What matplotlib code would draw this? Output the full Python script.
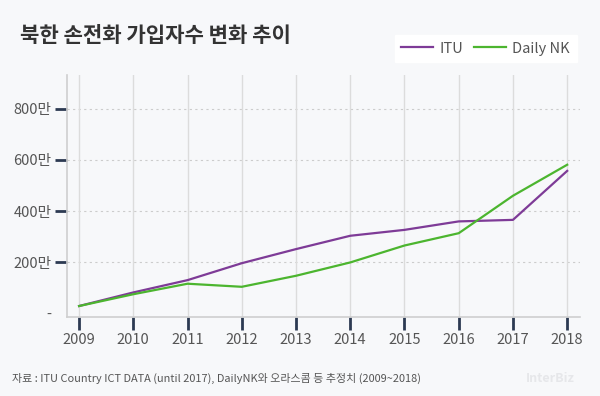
import matplotlib
matplotlib.use('Agg')
import matplotlib.pyplot as plt
from matplotlib.ticker import FixedLocator, FixedFormatter

plt.rcParams['font.family'] = ['Noto Sans CJK KR', 'DejaVu Sans']

# data (unit: 만 명)
years = [2009, 2010, 2011, 2012, 2013, 2014, 2015, 2016, 2017, 2018]
itu = [30, 83, 131, 197, 252, 304, 327, 360, 366, 557]
dailynk = [30, 76, 117, 105, 148, 200, 266, 314, 460, 581]
ytick_vals = [0, 200, 400, 600, 800]
ytick_labels = ['-', '200만', '400만', '600만', '800만']

bg = '#f7f8fa'
purple = '#7e3b97'
green = '#4cb52f'
navy = '#2c3a52'
txt = '#555555'

fig = plt.figure(figsize=(6, 3.96), dpi=100, facecolor=bg)
ax = fig.add_axes([0.111, 0.200, 0.856, 0.610], facecolor=bg)

ax.plot(years, itu, color=purple, lw=1.6, label='ITU', zorder=3)
ax.plot(years, dailynk, color=green, lw=1.6, label='Daily NK', zorder=3)

ax.set_xlim(2008.77, 2018.24)
ax.set_ylim(-12, 930)

ax.set_xticks(years)
ax.set_xticklabels([str(y) for y in years])
ax.yaxis.set_major_locator(FixedLocator(ytick_vals))
ax.yaxis.set_major_formatter(FixedFormatter(ytick_labels))

ax.tick_params(axis='both', colors=navy, width=2, length=9, labelsize=10.5,
               labelcolor=txt)
ax.tick_params(axis='y', pad=2)
ax.tick_params(axis='x', pad=3)
ax.yaxis.get_major_ticks()[0].tick1line.set_visible(False)

for s in ['top', 'right']:
    ax.spines[s].set_visible(False)
for s in ['left', 'bottom']:
    ax.spines[s].set_color('#cfcfcf')
    ax.spines[s].set_linewidth(1.2)

ax.grid(axis='x', color='#dcdcdc', lw=1, zorder=0)
for v in ytick_vals[1:]:
    ax.axhline(v, color='#cccccc', lw=0.8, ls=(0, (2, 3)), zorder=0)

fig.text(0.033, 0.91, '북한 손전화 가입자수 변화 추이', fontsize=15.2,
         fontweight='bold', color='#333333', va='center')

leg = fig.legend(loc='upper right', bbox_to_anchor=(0.973, 0.93), ncol=2,
                 frameon=True, fontsize=10.5, handlelength=2.2,
                 columnspacing=0.7, handletextpad=0.45, borderpad=0.45)
leg.get_frame().set_facecolor('white')
leg.get_frame().set_edgecolor('white')
leg.get_frame().set_alpha(1)
leg.get_frame().set_boxstyle('square', pad=0)
for t in leg.get_texts():
    t.set_color(txt)

fig.text(0.02, 0.045, '자료 : ITU Country ICT DATA (until 2017), DailyNK와 오라스콤 등 추정치 (2009~2018)',
         fontsize=7.9, color=txt, va='center')
fig.text(0.958, 0.045, 'InterBiz', fontsize=9, fontweight='bold',
         color='#e6e7ea', ha='right', va='center')

fig.savefig('out.png', dpi=100, facecolor=bg)
